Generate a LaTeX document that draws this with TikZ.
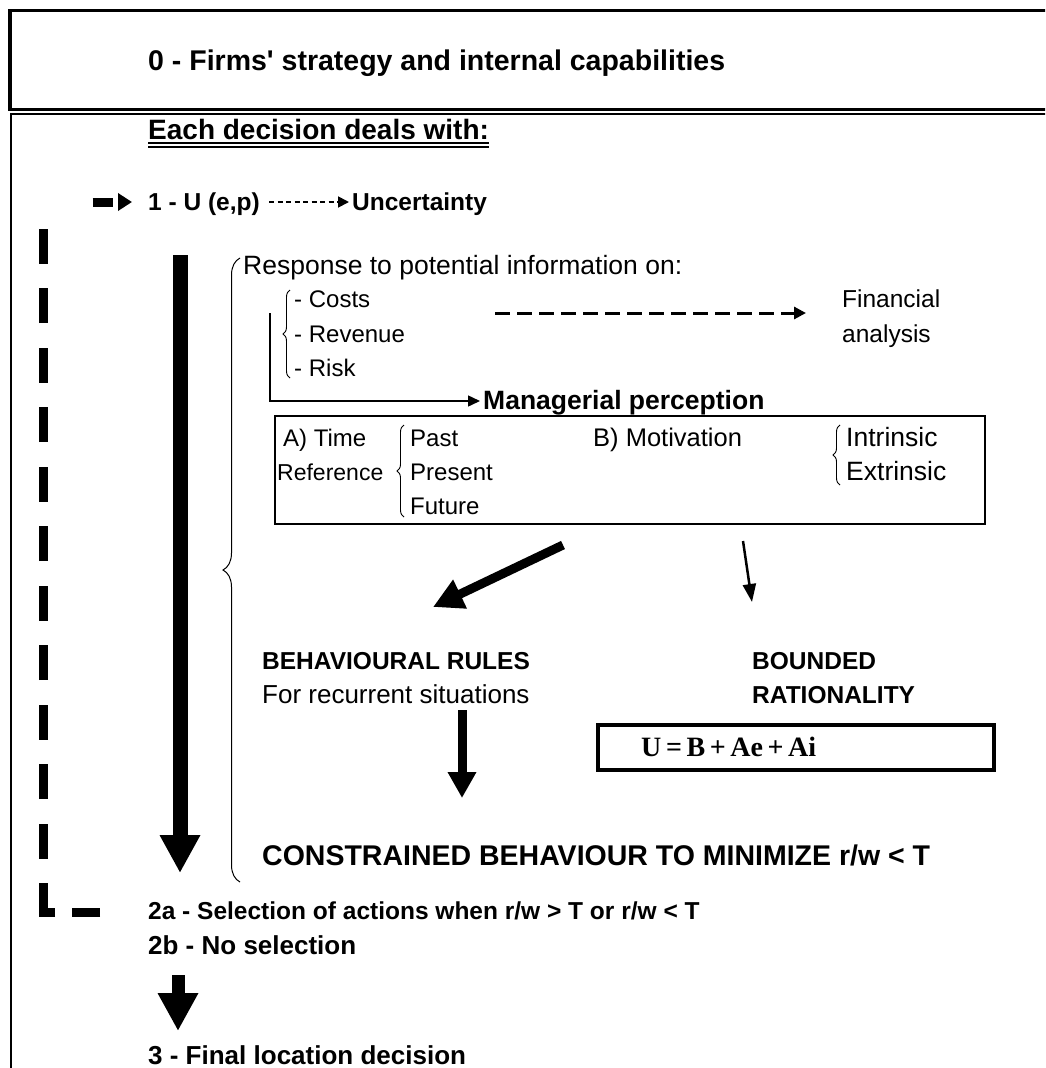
\documentclass[tikz,border=0pt]{standalone}
\usepackage{fontspec}
\setmainfont{Liberation Sans}
\newfontfamily\timesfont{Liberation Serif}
\usetikzlibrary{arrows.meta,decorations.pathreplacing,calc}
\newcommand\fsz[1]{\fontsize{#1}{#1}\selectfont}
\begin{document}
\begin{tikzpicture}[x=1pt,y=-1pt,
  T/.style={anchor=base west, inner sep=0pt, font=\fsz{24}},
  B/.style={anchor=base west, inner sep=0pt, font=\bfseries\fsz{24.5}},
  H/.style={anchor=base west, inner sep=0pt, font=\bfseries\fsz{28.5}},
  brc/.style={decorate, decoration={brace, amplitude=#1}, line width=0.9pt},
  fb/.style={line width=9pt, dash pattern=on 28pt off 17pt on 41pt
     off 24.5pt on 35pt off 24.5pt on 35pt off 24.5pt on 35pt off 24.5pt on 35pt
     off 24.5pt on 35pt off 24.5pt on 35pt off 24.5pt on 35pt off 24.5pt on 35pt
     off 24.5pt on 35pt off 24.5pt on 35pt off 24.5pt on 35pt
     off 76pt on 20pt off 40pt},
  blk/.style={line width=#1},
]
\useasboundingbox (0,0) rectangle (1045,1068);
\fill[white] (0,0) rectangle (1045,1068);
\clip (0,0) rectangle (1045,1068);

% frames
\draw[line width=3.5pt] (10,10.5) rectangle (1070,109.5);
\draw[line width=2pt] (11,114) rectangle (1070,1090);

% header texts
\node[H] (title) at (148,70) {0 - Firms\textquotesingle\ strategy and internal capabilities};
\node[H, font=\bfseries\fsz{28}] (each) at (148,139) {Each decision deals with:};
\draw[line width=1.3pt] ($(each.base west)+(0,4)$) -- ($(each.base east)+(0,4)$)
                        ($(each.base west)+(0,8)$) -- ($(each.base east)+(0,8)$);

% step 1
\node[B] (u1) at (148,210) {1 - U (e,p)};
\node[B] (unc) at (352,210) {Uncertainty};
\draw[line width=1.8pt, dash pattern=on 5pt off 3.5pt, -{Triangle[length=11pt,width=11pt]}]
  ($(u1.base east)+(9,-8)$) -- ($(unc.base west)+(-3,-8)$);

% big left arrow
\coordinate (bigA) at (180,255);
\coordinate (bigB) at (180,873);
\draw[blk=15pt, -{Triangle[length=38pt,width=38pt]}] (bigA) -- (bigB);

% big brace
\draw[brc=17pt, line width=1pt] (240,882) -- (240,258);
\node[T, font=\fsz{26.5}] (resp) at (243,274) {Response to potential information on:};

% costs group
\node[T] (costs) at (294,307) {- Costs};
\node[T] (rev) at (294,342) {- Revenue};
\node[T] (risk) at (294,376) {- Risk};
\draw[brc=7pt] (290,378) -- (290,290);

\node[T, font=\fsz{24.5}] (fin) at (842,307) {Financial};
\node[T, font=\fsz{24.5}] (ana) at (842,342) {analysis};
\coordinate (fdA) at (495,313);
\draw[line width=3pt, dash pattern=on 15pt off 7pt, -{Triangle[length=12pt,width=12pt]}]
  (fdA) -- ($(fin.base west)+(-36,6)$);

% managerial perception
\node[B, font=\bfseries\fsz{26.5}] (mp) at (483,409) {Managerial perception};
\coordinate (vl) at (270,313);
\draw[line width=1.5pt, -{Triangle[length=12pt,width=11pt]}] (vl) |- ($(mp.base west)+(-3,-8)$);

\node[draw, line width=2pt, inner sep=0pt, minimum width=710pt, minimum height=108pt, anchor=north west] (mpbox) at (274,415) {};
\node[T] (atime) at (283,446) {A) Time};
\node[T, font=\fsz{23}] (aref) at (277,480) {Reference};
\draw[brc=7pt] (404,517) -- (404,425);
\node[T] (past) at (410,446) {Past};
\node[T] (pres) at (410,480) {Present};
\node[T] (fut) at (410,514) {Future};
\node[T, font=\fsz{25.5}] (bmot) at (593,446) {B) Motivation};
\draw[brc=7pt] (840,485) -- (840,425);
\node[T, font=\fsz{26.5}] (intr) at (846,446) {Intrinsic};
\node[T, font=\fsz{26.5}] (extr) at (846,480) {Extrinsic};

% outcomes
\node[B] (beh) at (262,669) {BEHAVIOURAL RULES};
\node[T, font=\fsz{26}] (rec) at (262,703) {For recurrent situations};
\node[B] (bnd) at (752,669) {BOUNDED};
\node[B] (rat) at (752,703) {RATIONALITY};

\coordinate (dgA) at (563,545);
\coordinate (dgB) at (433,607);
\draw[blk=9pt, -{Triangle[length=30pt,width=30pt]}] (dgA) -- (dgB);
\coordinate (thA) at (743,541);
\coordinate (thB) at (752,602);
\draw[blk=2.5pt, -{Triangle[length=18pt,width=13pt]}] (thA) -- (thB);

\coordinate (vbA) at (462,710);
\coordinate (vbB) at (462,798);
\draw[blk=9pt, -{Triangle[length=26pt,width=27pt]}] (vbA) -- (vbB);

\node[draw, line width=3.5pt, inner sep=0pt, minimum width=396pt, minimum height=45pt, anchor=north west] (ubox) at (596,723) {};
\node[anchor=base west, inner sep=0pt, font=\timesfont\bfseries\fsz{28}] (ueq) at (641,756)
  {U\hspace{4.6pt}=\hspace{4.6pt}B\hspace{4.6pt}+\hspace{4.6pt}Ae\hspace{4.6pt}+\hspace{4.6pt}Ai};

\node[B, font=\bfseries\fsz{28.5}] (cons) at (262,865) {CONSTRAINED BEHAVIOUR TO MINIMIZE r/w < T};

% step 2 and 3
\node[B] (s2a) at (148,919) {2a - Selection of actions when r/w > T or r/w < T};
\node[B, font=\bfseries\fsz{26}] (s2b) at (148,954) {2b - No selection};
\coordinate (aA) at (178,975);
\coordinate (aB) at (178,1031);
\draw[blk=13pt, -{Triangle[length=38pt,width=38pt]}] (aA) -- (aB);
\node[B, font=\bfseries\fsz{26}] (s3) at (148,1064) {3 - Final location decision};

% feedback loop
\coordinate (fbS) at (100,912);
\coordinate (fbC) at (43,560);
\draw[fb, -{Triangle[length=14pt,width=17pt]}] (fbS) -| (fbC) |- ($(u1.base west)+(-16,-8)$);
\end{tikzpicture}
\end{document}
